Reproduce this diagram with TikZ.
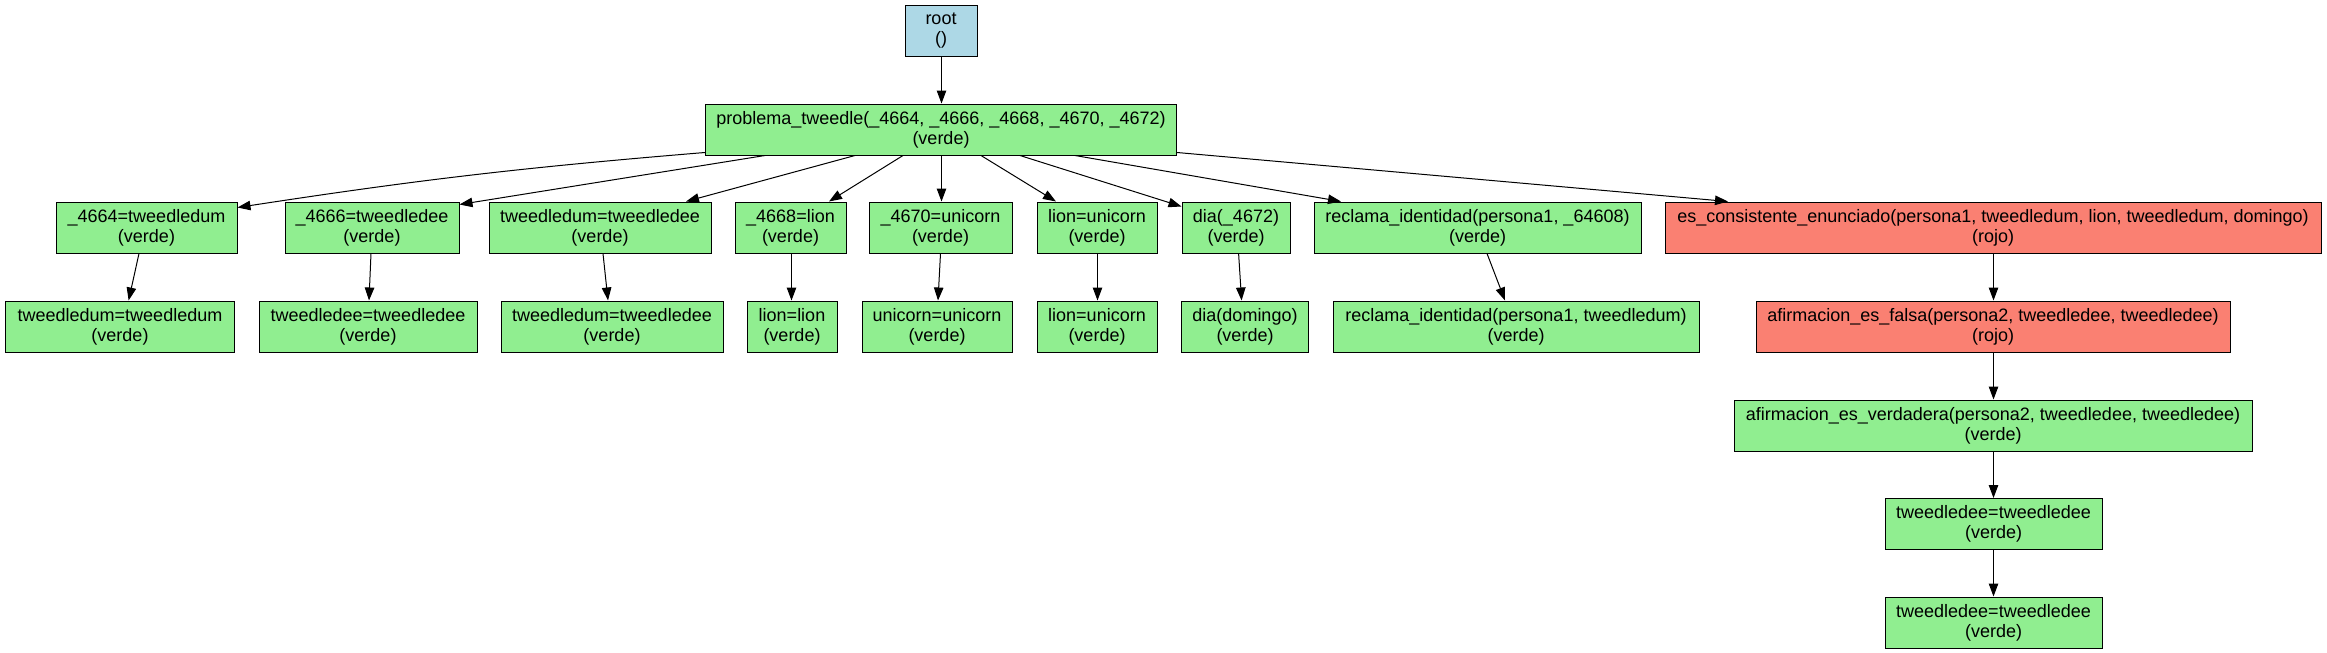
\documentclass[tikz,border=0pt]{standalone}
\usepackage{fontspec}
\setmainfont{Liberation Sans}
\usetikzlibrary{arrows.meta}
\definecolor{vgreen}{HTML}{90EE90}
\definecolor{vred}{HTML}{FA8072}
\definecolor{vblue}{HTML}{ADD8E6}
\begin{document}
\begin{tikzpicture}[x=1pt,y=-1pt,
  box/.style={draw, line width=1pt, fill=vgreen, minimum height=51pt, inner sep=0pt, align=center, font=\fontsize{18}{20}\selectfont},
  redbox/.style={box, fill=vred},
  edge/.style={-{Triangle[length=13pt,width=9.5pt]}, line width=1pt}]
\useasboundingbox[fill=white] (0,0) rectangle (2327,653);
% rows
\node[box, fill=vblue, minimum width=72pt] (root) at (941,30.5) {root\\()};
\node[box, minimum width=471pt] (p) at (941,129.5) {problema\_tweedle(\_4664, \_4666, \_4668, \_4670, \_4672)\\(verde)};
% level 2
\node[box, minimum width=181pt] (a1) at (146.5,227.5) {\_4664=tweedledum\\(verde)};
\node[box, minimum width=174pt] (a2) at (372,227.5) {\_4666=tweedledee\\(verde)};
\node[box, minimum width=222pt] (a3) at (600,227.5) {tweedledum=tweedledee\\(verde)};
\node[box, minimum width=111pt] (a4) at (790.5,227.5) {\_4668=lion\\(verde)};
\node[box, minimum width=143pt] (a5) at (940.5,227.5) {\_4670=unicorn\\(verde)};
\node[box, minimum width=120pt] (a6) at (1097,227.5) {lion=unicorn\\(verde)};
\node[box, minimum width=108pt] (a7) at (1236,227.5) {dia(\_4672)\\(verde)};
\node[box, minimum width=327pt] (a8) at (1477.5,227.5) {reclama\_identidad(persona1, \_64608)\\(verde)};
\node[redbox, minimum width=656pt] (a9) at (1993,227.5) {es\_consistente\_enunciado(persona1, tweedledum, lion, tweedledum, domingo)\\(rojo)};
% level 3
\node[box, minimum width=229pt] (b1) at (120,326.5) {tweedledum=tweedledum\\(verde)};
\node[box, minimum width=218pt] (b2) at (368,326.5) {tweedledee=tweedledee\\(verde)};
\node[box, minimum width=222pt] (b3) at (612,326.5) {tweedledum=tweedledee\\(verde)};
\node[box, minimum width=90pt] (b4) at (792,326.5) {lion=lion\\(verde)};
\node[box, minimum width=150pt] (b5) at (937,326.5) {unicorn=unicorn\\(verde)};
\node[box, minimum width=120pt] (b6) at (1097,326.5) {lion=unicorn\\(verde)};
\node[box, minimum width=127pt] (b7) at (1245,326.5) {dia(domingo)\\(verde)};
\node[box, minimum width=366pt] (b8) at (1516,326.5) {reclama\_identidad(persona1, tweedledum)\\(verde)};
\node[redbox, minimum width=474pt] (b9) at (1993,326.5) {afirmacion\_es\_falsa(persona2, tweedledee, tweedledee)\\(rojo)};
% chain
\node[box, minimum width=518pt] (c) at (1993,425.5) {afirmacion\_es\_verdadera(persona2, tweedledee, tweedledee)\\(verde)};
\node[box, minimum width=217pt] (d) at (1993.5,524) {tweedledee=tweedledee\\(verde)};
\node[box, minimum width=217pt] (e) at (1993.5,622.5) {tweedledee=tweedledee\\(verde)};
% edges
\draw[edge] ([xshift=.5pt]root.south) -- ([xshift=.5pt]p.north);
\draw[edge] ([yshift=3pt]p.south west) to[bend right=2] ([yshift=-6pt]a1.north east);
\draw[edge] ([xshift=-176pt]p.south) -- ([yshift=-3pt]a2.north east);
\draw[edge] ([xshift=-86pt]p.south) -- ([xshift=86pt]a3.north);
\draw[edge] ([xshift=-38pt]p.south) -- ([xshift=38.5pt]a4.north);
\draw[edge] ([xshift=.5pt]p.south) -- ([xshift=1pt]a5.north);
\draw[edge] ([xshift=40pt]p.south) -- ([xshift=-41pt]a6.north);
\draw[edge] ([xshift=79pt]p.south) -- ([yshift=-5pt]a7.north west);
\draw[edge] ([xshift=134pt]p.south) -- ([xshift=-136.5pt]a8.north);
\draw[edge] ([yshift=3pt]p.south east) -- ([xshift=-265pt]a9.north);
\draw[edge] ([xshift=-7.5pt]a1.south) -- ([xshift=8.6pt]b1.north);
\draw[edge] ([xshift=-1pt]a2.south) -- ([xshift=1pt]b2.north);
\draw[edge] ([xshift=3pt]a3.south) -- ([xshift=-4pt]b3.north);
\draw[edge] ([xshift=1pt]a4.south) -- ([xshift=-.5pt]b4.north);
\draw[edge] (a5.south) -- ([xshift=1pt]b5.north);
\draw[edge] ([xshift=.5pt]a6.south) -- ([xshift=.5pt]b6.north);
\draw[edge] ([xshift=2.6pt]a7.south) -- ([xshift=-3.4pt]b7.north);
\draw[edge] ([xshift=9.5pt]a8.south) -- ([xshift=-11pt]b8.north);
\draw[edge] ([xshift=.5pt]a9.south) -- ([xshift=.5pt]b9.north);
\draw[edge] ([xshift=.5pt]b9.south) -- ([xshift=.5pt]c.north);
\draw[edge] ([xshift=.5pt]c.south) -- (d.north);
\draw[edge] (d) -- (e);
\end{tikzpicture}
\end{document}
